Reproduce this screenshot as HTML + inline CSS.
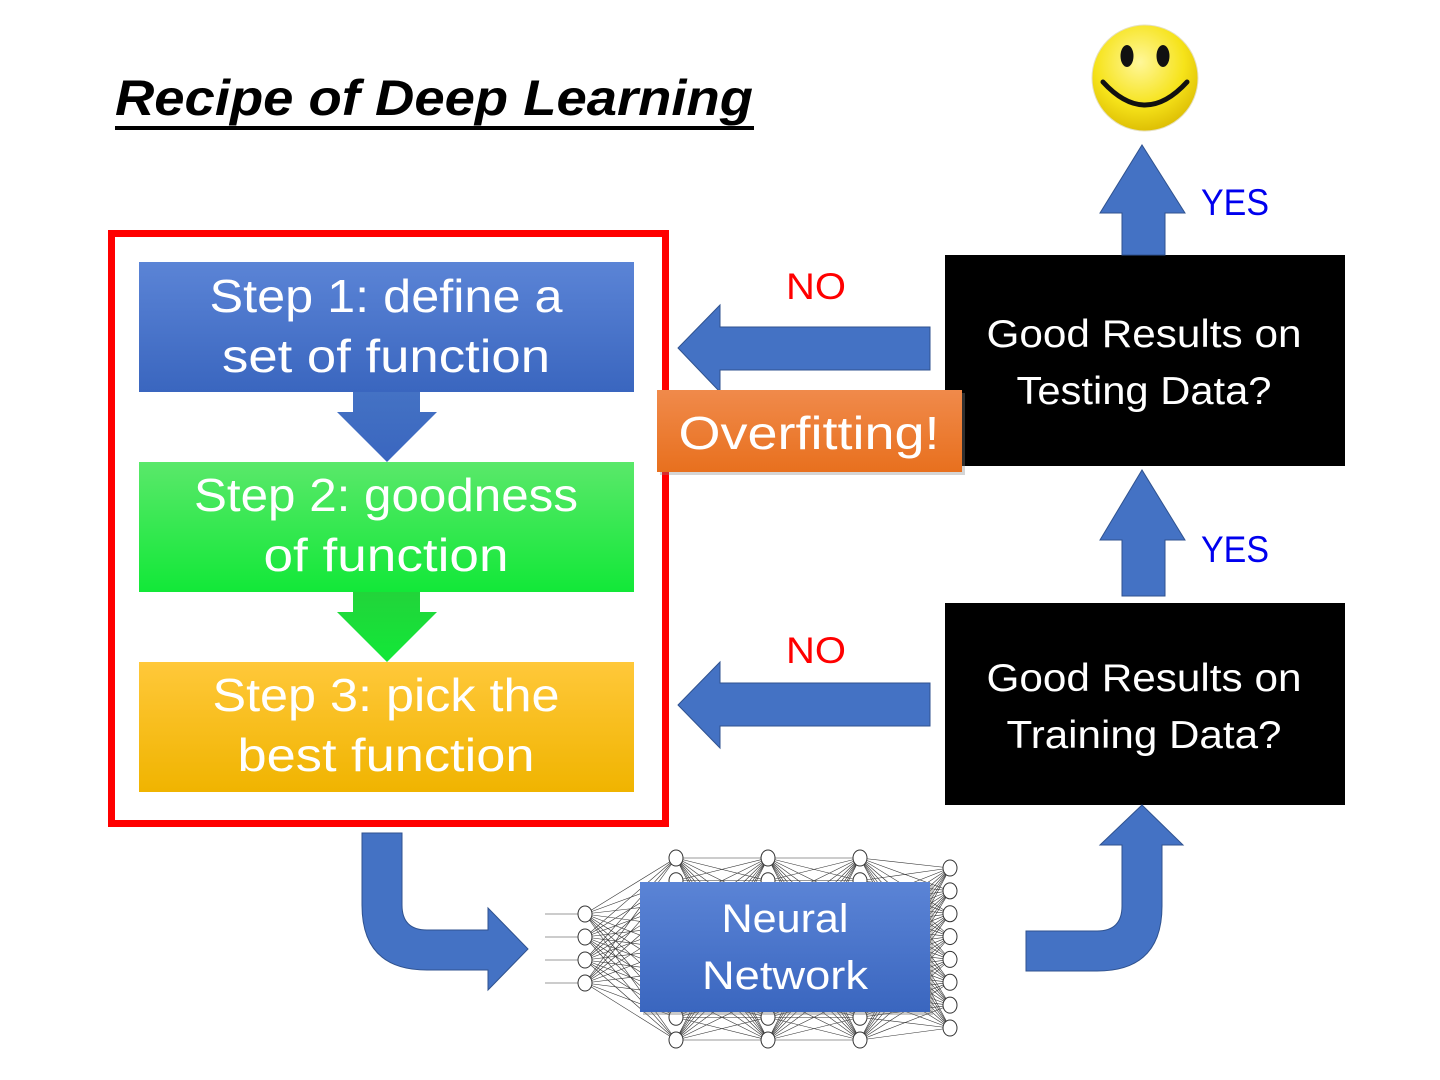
<!DOCTYPE html>
<html><head><meta charset="utf-8"><style>
html,body{margin:0;padding:0;background:#fff;}
svg{display:block;}
text{font-family:"Liberation Sans",sans-serif;}
</style></head><body>
<svg id="s" width="1440" height="1080" viewBox="0 0 1440 1080" xmlns="http://www.w3.org/2000/svg">
<defs>
<linearGradient id="gb" x1="0" y1="0" x2="0" y2="1"><stop offset="0" stop-color="#5b84d6"/><stop offset="1" stop-color="#3a66bf"/></linearGradient>
<linearGradient id="gg" x1="0" y1="0" x2="0" y2="1"><stop offset="0" stop-color="#5ae86a"/><stop offset="1" stop-color="#12e838"/></linearGradient>
<linearGradient id="gy" x1="0" y1="0" x2="0" y2="1"><stop offset="0" stop-color="#ffc83a"/><stop offset="1" stop-color="#f0b400"/></linearGradient>
<linearGradient id="ga1" x1="0" y1="0" x2="0" y2="1"><stop offset="0" stop-color="#4472c4"/><stop offset="1" stop-color="#3a66bf"/></linearGradient>
<linearGradient id="ga2" x1="0" y1="0" x2="0" y2="1"><stop offset="0" stop-color="#22d43a"/><stop offset="1" stop-color="#12e838"/></linearGradient>
<linearGradient id="go" x1="0" y1="0" x2="0" y2="1"><stop offset="0" stop-color="#f08a4b"/><stop offset="1" stop-color="#e8701e"/></linearGradient>
<radialGradient id="gs" cx="0.45" cy="0.35" r="0.7"><stop offset="0" stop-color="#fff79a"/><stop offset="0.6" stop-color="#f6e31a"/><stop offset="1" stop-color="#d9b800"/></radialGradient>
</defs>

<text x="115" y="115" font-size="50" font-weight="bold" font-style="italic" fill="#000" textLength="638" lengthAdjust="spacingAndGlyphs">Recipe of Deep Learning</text>
<rect x="115" y="126" width="639" height="4" fill="#000"/>

<circle cx="1145" cy="78" r="53" fill="url(#gs)" stroke="#e6e0c0" stroke-width="1"/>
<ellipse cx="1127" cy="56" rx="6.5" ry="11" fill="#111"/>
<ellipse cx="1163" cy="56" rx="6.5" ry="11" fill="#111"/>
<path d="M1103 82 Q1145 128 1187 82" fill="none" stroke="#111" stroke-width="5" stroke-linecap="round"/>

<rect x="111.5" y="233.5" width="554" height="590" fill="none" stroke="#f00" stroke-width="7"/>

<rect x="139" y="262" width="495" height="130" fill="url(#gb)"/>
<text x="386" y="312" font-size="46" fill="#fff" text-anchor="middle" textLength="353" lengthAdjust="spacingAndGlyphs">Step 1: define a</text>
<text x="386" y="372" font-size="46" fill="#fff" text-anchor="middle" textLength="328" lengthAdjust="spacingAndGlyphs">set of function</text>
<polygon points="353,392 420,392 420,412 437,412 387,462 337,412 353,412" fill="url(#ga1)"/>

<rect x="139" y="462" width="495" height="130" fill="url(#gg)"/>
<text x="386" y="511" font-size="46" fill="#fff" text-anchor="middle" textLength="384" lengthAdjust="spacingAndGlyphs">Step 2: goodness</text>
<text x="386" y="571" font-size="46" fill="#fff" text-anchor="middle" textLength="245" lengthAdjust="spacingAndGlyphs">of function</text>
<polygon points="353,592 420,592 420,612 437,612 387,662 337,612 353,612" fill="url(#ga2)"/>

<rect x="139" y="662" width="495" height="130" fill="url(#gy)"/>
<text x="386" y="711" font-size="46" fill="#fff" text-anchor="middle" textLength="347" lengthAdjust="spacingAndGlyphs">Step 3: pick the</text>
<text x="386" y="771" font-size="46" fill="#fff" text-anchor="middle" textLength="297" lengthAdjust="spacingAndGlyphs">best function</text>

<rect x="945" y="255" width="400" height="211" fill="#000"/>
<text x="1144" y="347" font-size="39" fill="#fff" text-anchor="middle" textLength="315" lengthAdjust="spacingAndGlyphs">Good Results on</text>
<text x="1144" y="404" font-size="39" fill="#fff" text-anchor="middle" textLength="255" lengthAdjust="spacingAndGlyphs">Testing Data?</text>
<rect x="945" y="603" width="400" height="202" fill="#000"/>
<text x="1144" y="691" font-size="39" fill="#fff" text-anchor="middle" textLength="315" lengthAdjust="spacingAndGlyphs">Good Results on</text>
<text x="1144" y="748" font-size="39" fill="#fff" text-anchor="middle" textLength="275" lengthAdjust="spacingAndGlyphs">Training Data?</text>

<polygon points="930,327 720,327 720,305 678,348 720,392 720,370 930,370" fill="#4472c4" stroke="#2f528f" stroke-width="1"/>
<polygon points="930,683 720,683 720,662 678,705 720,748 720,726 930,726" fill="#4472c4" stroke="#2f528f" stroke-width="1"/>
<text x="816" y="299" font-size="37" fill="#f00" text-anchor="middle" textLength="60" lengthAdjust="spacingAndGlyphs">NO</text>
<text x="816" y="663" font-size="37" fill="#f00" text-anchor="middle" textLength="60" lengthAdjust="spacingAndGlyphs">NO</text>

<polygon points="1122,255 1122,213 1100,213 1142,145 1185,213 1165,213 1165,255" fill="#4472c4" stroke="#2f528f" stroke-width="1"/>
<polygon points="1122,596 1122,540 1100,540 1142,470 1185,540 1165,540 1165,596" fill="#4472c4" stroke="#2f528f" stroke-width="1"/>
<text x="1235" y="215" font-size="37" fill="#0000ee" text-anchor="middle" textLength="68" lengthAdjust="spacingAndGlyphs">YES</text>
<text x="1235" y="562" font-size="37" fill="#0000ee" text-anchor="middle" textLength="68" lengthAdjust="spacingAndGlyphs">YES</text>

<rect x="660" y="393" width="305" height="82" fill="#888" opacity="0.35"/>
<rect x="657" y="390" width="305" height="82" fill="url(#go)"/>
<text x="809" y="449" font-size="46" fill="#fff" text-anchor="middle" textLength="261" lengthAdjust="spacingAndGlyphs">Overfitting!</text>

<path d="M362,833 L402,833 L402,905 Q402,930 427,930 L488,930 L488,908 L528,949 L488,990 L488,970 L427,970 Q362,970 362,905 Z" fill="#4472c4" stroke="#2f528f" stroke-width="1"/>
<path d="M1026,931 L1097,931 Q1122,931 1122,906 L1122,845 L1100,845 L1142,805 L1183,845 L1162,845 L1162,906 Q1162,971 1097,971 L1026,971 Z" fill="#4472c4" stroke="#2f528f" stroke-width="1"/>

<g id="nn" stroke="#333" stroke-width="0.6" fill="none"></g>
<g id="nodes" stroke="#333" stroke-width="1" fill="#fff"></g>

<rect x="643" y="885" width="290" height="130" fill="#777" opacity="0.4"/>
<rect x="640" y="882" width="290" height="130" fill="url(#gb)"/>
<text x="785" y="932" font-size="40" fill="#fff" text-anchor="middle" textLength="127" lengthAdjust="spacingAndGlyphs">Neural</text>
<text x="785" y="989" font-size="40" fill="#fff" text-anchor="middle" textLength="166" lengthAdjust="spacingAndGlyphs">Network</text>
</svg>
<script>
(function(){
var NS="http://www.w3.org/2000/svg";
var nn=document.getElementById("nn"),nd=document.getElementById("nodes");
function ys(a,b,n){var r=[];for(var i=0;i<n;i++)r.push(a+(b-a)*i/(n-1));return r;}
var cols=[[585,ys(914,983,4)],[676,ys(858,1040,9)],[768,ys(858,1040,9)],[860,ys(858,1040,9)],[950,ys(868,1028,8)]];
function el(t,a,p){var e=document.createElementNS(NS,t);for(var k in a)e.setAttribute(k,a[k]);p.appendChild(e);}
for(var c=0;c<cols.length-1;c++){var A=cols[c],B=cols[c+1];
A[1].forEach(function(y1){B[1].forEach(function(y2){el("line",{x1:A[0],y1:y1,x2:B[0],y2:y2},nn);});});}
cols[0][1].forEach(function(y){el("line",{x1:545,y1:y,x2:578,y2:y},nn);});
cols.forEach(function(C){C[1].forEach(function(y){el("ellipse",{cx:C[0],cy:y,rx:7,ry:8},nd);});});
})();
</script>
</body></html>
